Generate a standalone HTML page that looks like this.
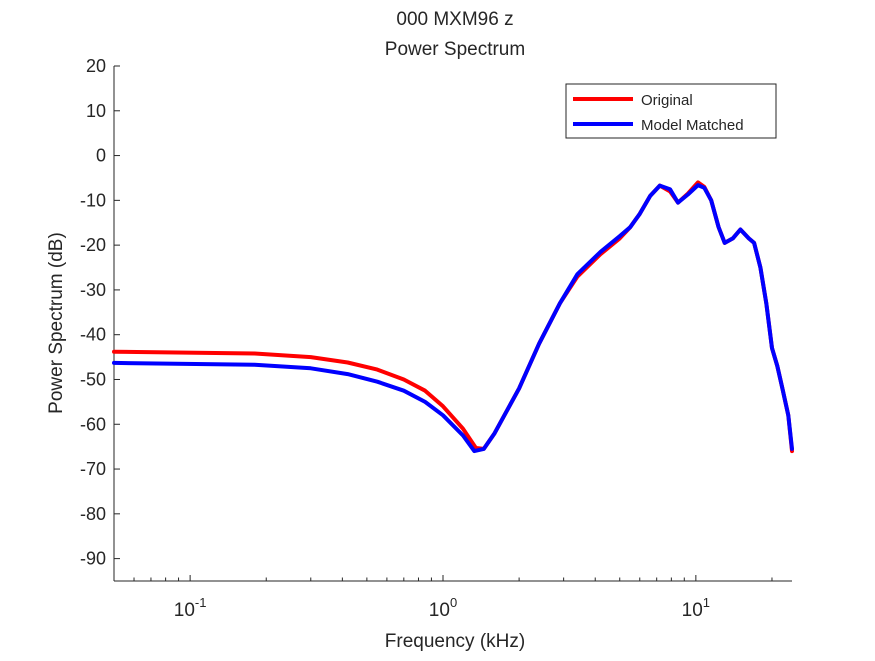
<!DOCTYPE html>
<html><head><meta charset="utf-8"><style>
body{margin:0;background:#fff;font-family:"Liberation Sans",sans-serif}
svg text{font-family:"Liberation Sans",sans-serif;fill:#262626}
</style></head><body>
<svg id="chart" width="875" height="656" viewBox="0 0 875 656">
<rect x="0" y="0" width="875" height="656" fill="#fff"/>
<text x="455" y="25" font-size="19" text-anchor="middle">000 MXM96 z</text>
<text x="455" y="55" font-size="19" text-anchor="middle">Power Spectrum</text>
<g id="axes"></g>
<g id="series"></g>
<text x="455" y="647" font-size="19" text-anchor="middle">Frequency (kHz)</text>
<text transform="translate(62,323) rotate(-90)" font-size="19" text-anchor="middle">Power Spectrum (dB)</text>
<g>
<rect x="566" y="84" width="210" height="54" fill="#fff" stroke="#262626" stroke-width="1"/>
<line x1="573" y1="99" x2="633" y2="99" stroke="#f00" stroke-width="4"/>
<text x="641" y="105" font-size="15">Original</text>
<line x1="573" y1="124" x2="633" y2="124" stroke="#00f" stroke-width="4"/>
<text x="641" y="130" font-size="15">Model Matched</text>
</g>
</svg>
<script>
const yTicks=[20,10,0,-10,-20,-30,-40,-50,-60,-70,-80,-90];
const xDecades=[-1,0,1];
const origFreq=[0.05,0.18,0.3,0.42,0.55,0.7,0.85,1.0,1.2,1.35,1.45,1.6,2.0,2.4,2.9,3.4,4.2,5.0,5.5,6.0,6.6,7.2,7.9,8.5,9.3,10.2,10.8,11.5,12.3,13,14,15,16.2,17,18,19,20,21,22,23.2,24];
const origDb=[-43.8,-44.2,-45,-46.2,-47.8,-50,-52.5,-56,-61,-65.3,-65.5,-62,-52,-42,-33,-27,-22,-18.5,-16,-13,-9,-6.7,-8,-10.5,-8.5,-6,-7,-10,-16,-19.5,-18.5,-16.5,-18.5,-19.5,-25,-33,-43,-47,-52,-58,-66];
const modelFreq=[0.05,0.18,0.3,0.42,0.55,0.7,0.85,1.0,1.2,1.33,1.45,1.6,2.0,2.4,2.9,3.4,4.2,5.0,5.5,6.0,6.6,7.2,7.9,8.5,9.3,10.2,10.8,11.5,12.3,13,14,15,16.2,17,18,19,20,21,22,23.2,24];
const modelDb=[-46.3,-46.7,-47.5,-48.8,-50.5,-52.5,-55,-58,-62.5,-66,-65.5,-62,-52,-42,-33,-26.5,-21.5,-18,-16,-13,-9,-6.7,-7.5,-10.5,-8.7,-6.6,-7.2,-10,-16,-19.5,-18.5,-16.5,-18.5,-19.5,-25,-33,-43,-47,-52,-58,-65.5];
const NS='http://www.w3.org/2000/svg';
const L=114,R=792,T=66,B=581;
const xmin=Math.log10(0.05),xmax=Math.log10(24);
const X=f=>L+(Math.log10(f)-xmin)/(xmax-xmin)*(R-L);
const Y=v=>T+(20-v)/(115)*(B-T);
function mk(tag,attrs,parent){const e=document.createElementNS(NS,tag);for(const k in attrs)e.setAttribute(k,attrs[k]);parent.appendChild(e);return e;}
const ax=document.getElementById('axes');
let e=mk('line',{x1:L,y1:T,x2:L,y2:B,stroke:'#262626'},ax);


e=mk('line',{x1:L,y1:B,x2:R,y2:B,stroke:'#262626'},ax);


yTicks.forEach(v=>{const y=Y(v);
 mk('line',{x1:L,y1:y,x2:L+6,y2:y,stroke:'#262626'},ax);
 const t=mk('text',{x:L-8,y:y+6,'font-size':18,'text-anchor':'end'},ax);t.textContent=v;
 
 
});
for(let d=-2;d<=1;d++)for(let m=1;m<10;m++){const f=m*Math.pow(10,d);if(f<0.05||f>24)continue;const x=X(f);
 mk('line',{x1:x,y1:B,x2:x,y2:B-(m==1?6:3.5),stroke:'#262626'},ax);}
xDecades.forEach(d=>{const x=X(Math.pow(10,d));
 const t=mk('text',{x:x,y:616,'font-size':19,'text-anchor':'middle'},ax);
 
 
 t.textContent='10';
 const s=mk('tspan',{dy:-9,'font-size':13},t);s.textContent=String(d);
});
const sg=document.getElementById('series');
function draw(fs,vs,col,name){const d=fs.map((f,i)=>(i?'L':'M')+X(f).toFixed(1)+','+Y(vs[i]).toFixed(1)).join(' ');
 const p=mk('path',{d:d,fill:'none',stroke:col,'stroke-width':4,'stroke-linejoin':'round','stroke-linecap':'round'},sg);
 
 }
draw(origFreq,origDb,'#f00','original-line');
draw(modelFreq,modelDb,'#00f','model-matched-line');
</script>
</body></html>
